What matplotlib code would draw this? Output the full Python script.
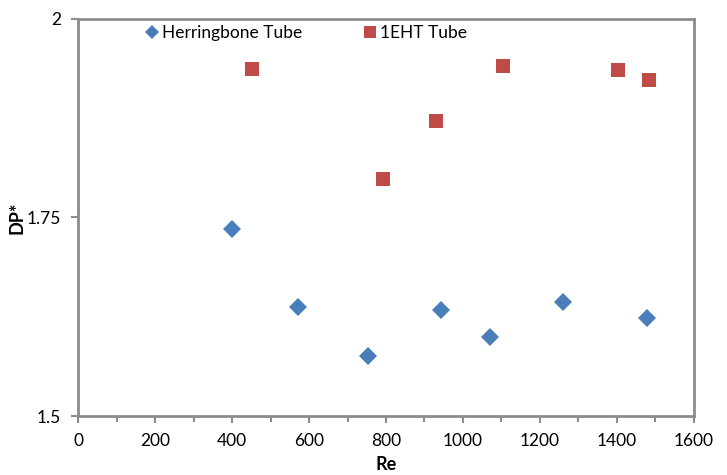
import matplotlib.pyplot as plt
from matplotlib.ticker import MultipleLocator

# Herringbone tube data
herr_re = [401, 571, 753, 943, 1071, 1261, 1477]
herr_dp = [1.736, 1.637, 1.575, 1.633, 1.599, 1.643, 1.623]

# 1EHT tube data
eht_re = [453, 792, 930, 1105, 1402, 1483]
eht_dp = [1.937, 1.799, 1.871, 1.941, 1.936, 1.923]

plt.rcParams['font.family'] = ['Lato', 'DejaVu Sans']

fig = plt.figure(figsize=(7.27, 4.75), dpi=100)
ax = fig.add_axes([0.1073, 0.1242, 0.8473, 0.836])

ax.plot(herr_re, herr_dp, 'D', color='#4A7EBB', markersize=9, markeredgewidth=0,
        label='Herringbone Tube')
ax.plot(eht_re, eht_dp, 's', color='#BE4B48', markersize=10.5, markeredgewidth=0,
        label='1EHT Tube')

ax.set_xlim(0, 1600)
ax.set_ylim(1.5, 2)
ax.set_xticks(range(0, 1601, 200))
ax.set_yticks([1.5, 1.75, 2])
ax.set_yticklabels(['1.5', '1.75', '2'])
ax.xaxis.set_minor_locator(MultipleLocator(100))

for s in ax.spines.values():
    s.set_color('#8C8C8C')
    s.set_linewidth(2)

ax.tick_params(axis='both', which='both', color='#8C8C8C', width=1.5,
               direction='out', labelsize=12.5, pad=7)
ax.tick_params(axis='both', which='major', length=5)
ax.tick_params(axis='x', which='minor', length=4)

ax.set_xlabel('Re', fontsize=13, fontweight='bold', labelpad=5)
ax.set_ylabel('DP*', fontsize=13, fontweight='bold')
ax.yaxis.set_label_coords(-0.086, 0.5)

ax.legend(loc='upper left', bbox_to_anchor=(0.08, 1.025), ncol=2, frameon=False,
          fontsize=12.5, handletextpad=0.1, columnspacing=3.4, handlelength=1.0,
          markerscale=0.8)

fig.savefig('out.png', dpi=100)
